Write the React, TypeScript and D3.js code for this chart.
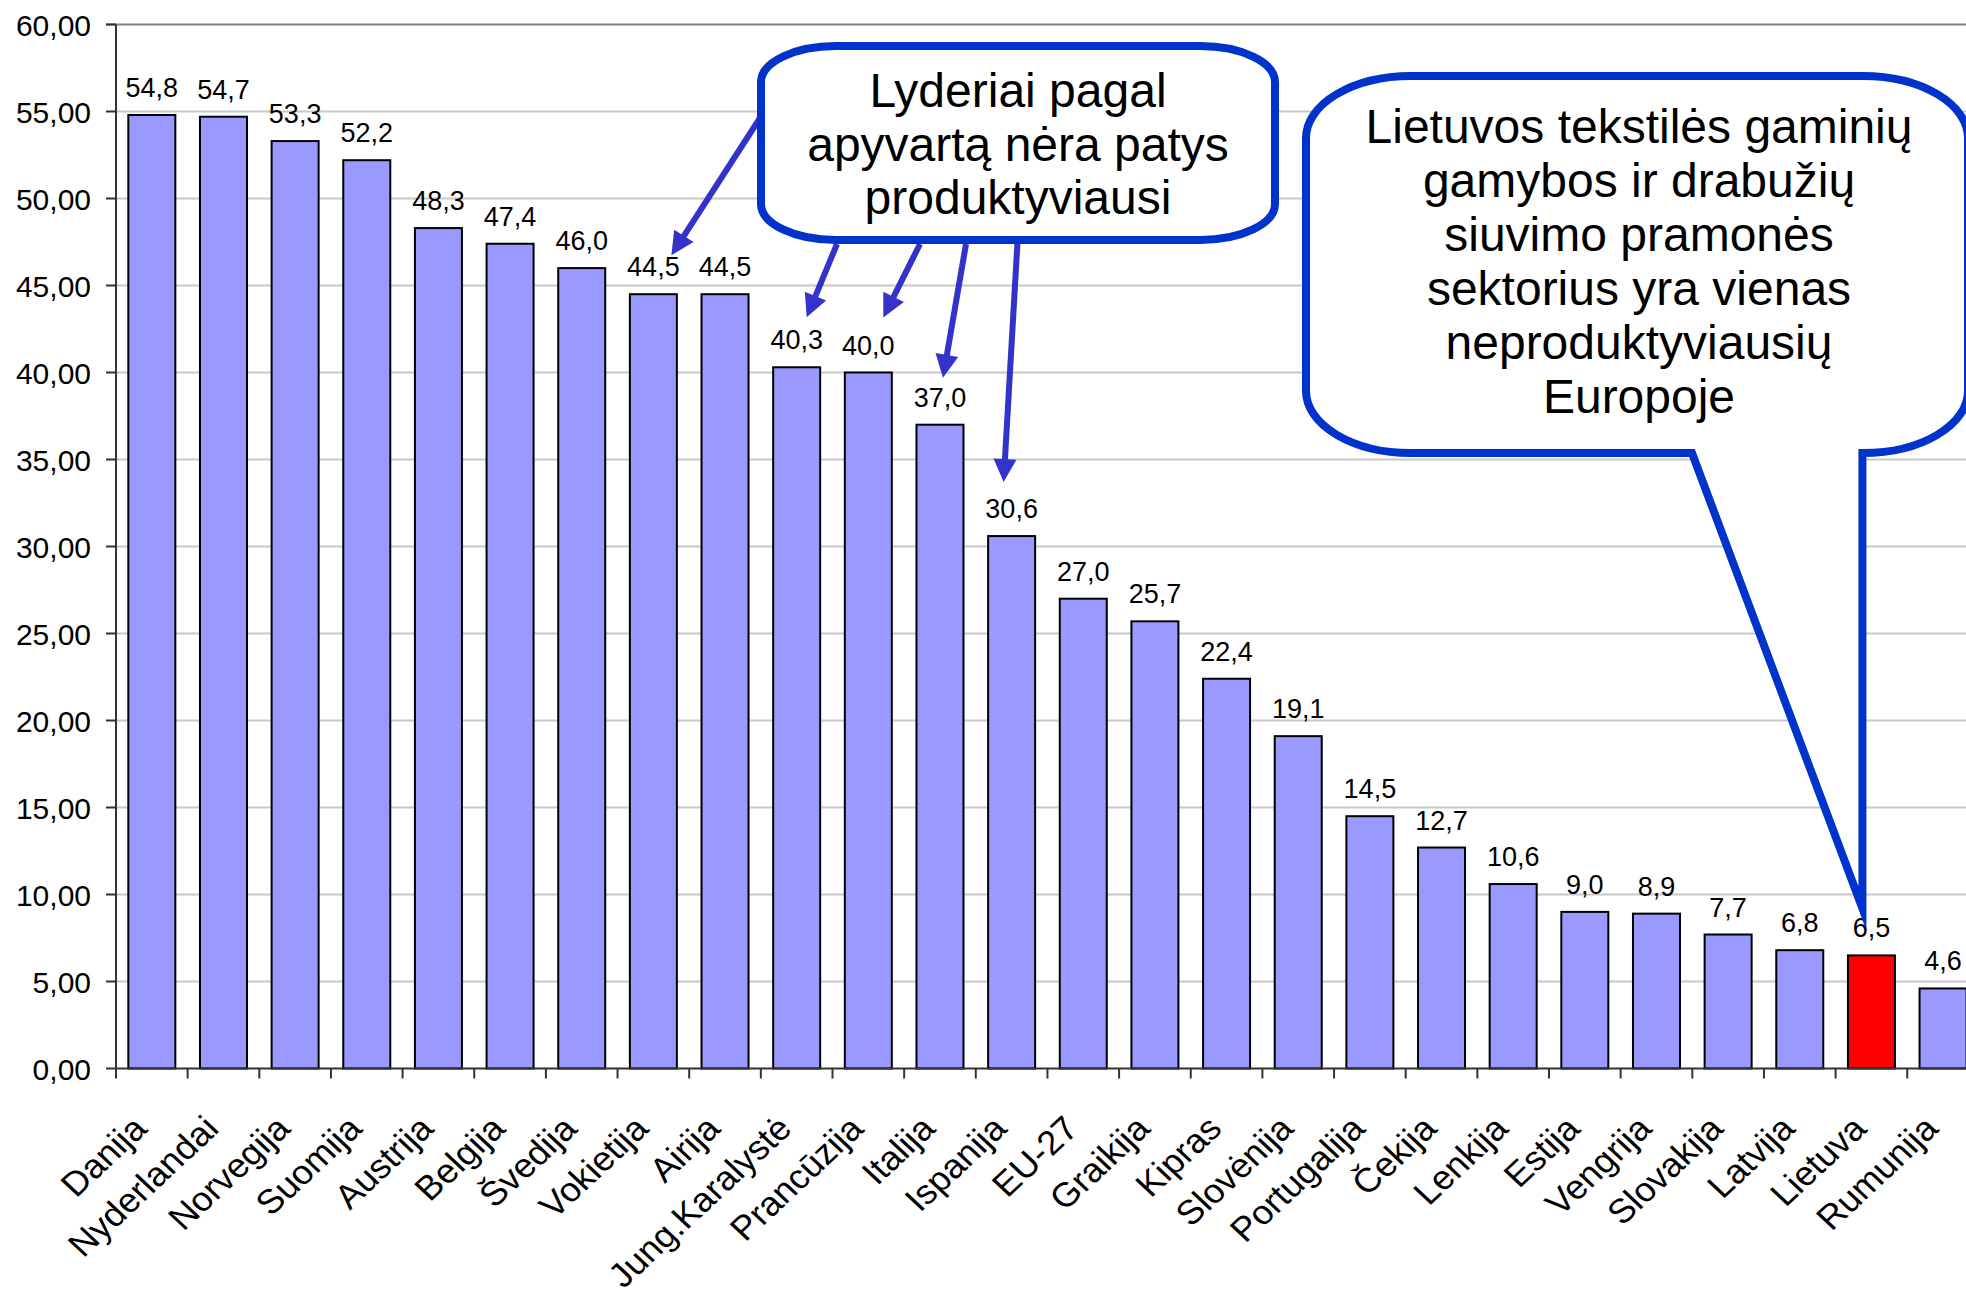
import React from "react";
import * as d3 from "d3";

const categories = ["Danija","Nyderlandai","Norvegija","Suomija","Austrija","Belgija","Švedija","Vokietija","Airija","Jung.Karalystė","Prancūzija","Italija","Ispanija","EU-27","Graikija","Kipras","Slovėnija","Portugalija","Čekija","Lenkija","Estija","Vengrija","Slovakija","Latvija","Lietuva","Rumunija"];
const values = [54.8,54.7,53.3,52.2,48.3,47.4,46.0,44.5,44.5,40.3,40.0,37.0,30.6,27.0,25.7,22.4,19.1,14.5,12.7,10.6,9.0,8.9,7.7,6.8,6.5,4.6];
const highlighted = ["Lietuva"];
const yTicks = [0,5,10,15,20,25,30,35,40,45,50,55,60];
const callout1Lines = ["Lyderiai pagal","apyvartą nėra patys","produktyviausi"];
const callout2Lines = ["Lietuvos tekstilės gaminių","gamybos ir drabužių","siuvimo pramonės","sektorius yra vienas","neproduktyviausių","Europoje"];
const arrowTargets = ["Vokietija","Jung.Karalystė","Prancūzija","Italija","Ispanija"];

const W = 1966, H = 1294;
const FONT = "'Liberation Sans', Arial, Helvetica, sans-serif";
const left = 116, step = 71.65;
const x = d3.scaleBand<string>().domain(categories).range([left, left + step * categories.length]).paddingInner(0.344).paddingOuter(0.172);
const y = d3.scaleLinear().domain([0, 60]).range([1068.5, 24.5]);
const fmt = (v: number, d: number) => d3.format(`.${d}f`)(v).replace(".", ",");
const half = (x.step() - x.bandwidth()) / 2;

function arrow(x1: number, y1: number, x2: number, y2: number, key: string) {
  const dx = x2 - x1, dy = y2 - y1, len = Math.hypot(dx, dy);
  const ux = dx / len, uy = dy / len;
  const hl = 23, hw = 11.5;
  const bx = x2 - ux * hl, by = y2 - uy * hl;
  const px = -uy, py = ux;
  return (
    <g key={key}>
      <line x1={x1} y1={y1} x2={bx + ux * 2} y2={by + uy * 2} stroke="#3333CC" strokeWidth={6} />
      <polygon points={`${x2},${y2} ${bx + px * hw},${by + py * hw} ${bx - px * hw},${by - py * hw}`} fill="#3333CC" />
    </g>
  );
}

function roundedPath(l: number, t: number, r: number, b: number, rx: number, ry: number, tail?: { bl: number; br: number; tx: number; ty: number }) {
  let p = `M${l + rx},${t} H${r - rx} A${rx},${ry} 0 0 1 ${r},${t + ry} V${b - ry} A${rx},${ry} 0 0 1 ${r - rx},${b}`;
  if (tail) p += ` H${tail.br} L${tail.tx},${tail.ty} L${tail.bl},${b}`;
  p += ` H${l + rx} A${rx},${ry} 0 0 1 ${l},${b - ry} V${t + ry} A${rx},${ry} 0 0 1 ${l + rx},${t} Z`;
  return p;
}

export default function App() {
  const plotRight = left + step * categories.length;
  const center = (c: string) => (x(c) as number) + x.bandwidth() / 2;
  const valOf = (c: string) => values[categories.indexOf(c)];

  const arrowStarts: [number, number][] = [[760, 118], [837, 244], [920, 244], [966, 244], [1017.5, 242]];
  const arrowOffsets: [number, number][] = [[18, 39], [10, 50], [15, 55], [3, 47], [-8, 54]];
  const lietuvaTip = { x: center("Lietuva") - 9, y: y(valOf("Lietuva")) - 47 };

  return (
    <svg width={W} height={H} style={{ position: "absolute", left: 0, top: 0, background: "#fff" }} fontFamily={FONT}>
      <rect x={0} y={0} width={W} height={H} fill="#fff" />
      {/* gridlines */}
      {yTicks.filter(t => t > 0 && t < 60).map(t => (
        <line key={"g" + t} x1={left} x2={plotRight} y1={y(t)} y2={y(t)} stroke="#C8C8C8" strokeWidth={2} />
      ))}
      <line x1={left - 10} x2={plotRight} y1={y(60)} y2={y(60)} stroke="#808080" strokeWidth={2} />
      {/* y ticks & labels */}
      {yTicks.map(t => (
        <g key={"yt" + t}>
          <line x1={left - 10} x2={left} y1={y(t)} y2={y(t)} stroke="#333" strokeWidth={2} />
          <text x={91} y={y(t) + 11} fontSize={30} textAnchor="end" fill="#000">{fmt(t, 2)}</text>
        </g>
      ))}
      {/* bars */}
      {categories.map((c, i) => (
        <rect key={"b" + c} x={x(c)} y={y(values[i])} width={x.bandwidth()} height={y(0) - y(values[i])}
          fill={highlighted.includes(c) ? "#FF0000" : "#9999FF"} stroke="#000" strokeWidth={2} />
      ))}
      {/* axes */}
      <line x1={left} x2={left} y1={y(60)} y2={y(0)} stroke="#333" strokeWidth={2} />
      <line x1={left} x2={plotRight} y1={y(0)} y2={y(0)} stroke="#333" strokeWidth={2} />
      {categories.map(c => (
        <line key={"xt" + c} x1={(x(c) as number) - half} x2={(x(c) as number) - half} y1={y(0)} y2={y(0) + 10} stroke="#333" strokeWidth={2} />
      ))}
      {/* value labels */}
      {categories.map((c, i) => (
        <text key={"v" + c} x={center(c)} y={y(values[i]) - 18} fontSize={27} textAnchor="middle" fill="#000">{fmt(values[i], 1)}</text>
      ))}
      {/* category labels */}
      {categories.map(c => (
        <text key={"c" + c} transform={`translate(${center(c) - 3},${y(0) + 62}) scale(1.07,1) rotate(-45)`} fontSize={34} textAnchor="end" fill="#000">{c}</text>
      ))}
      {/* callout 1 arrows */}
      {arrowTargets.map((c, i) => arrow(arrowStarts[i][0], arrowStarts[i][1], center(c) + arrowOffsets[i][0], y(valOf(c)) - arrowOffsets[i][1], "a" + i))}
      {/* callout 1 */}
      <path d={roundedPath(761, 46, 1275, 240, 75, 36)} fill="#fff" stroke="#0033CC" strokeWidth={8} />
      {callout1Lines.map((s, i) => (
        <text key={"c1" + i} x={1018} y={107 + i * 53.5} fontSize={48} textAnchor="middle" fill="#000">{s}</text>
      ))}
      {/* callout 2 */}
      <path d={roundedPath(1306, 76, 1968, 453, 105, 62, { bl: 1692, br: lietuvaTip.x, tx: lietuvaTip.x, ty: lietuvaTip.y })} fill="#fff" stroke="#0033CC" strokeWidth={8} strokeLinejoin="miter" strokeMiterlimit={10} />
      {callout2Lines.map((s, i) => (
        <text key={"c2" + i} x={1639} y={143 + i * 54} fontSize={48} textAnchor="middle" fill="#000">{s}</text>
      ))}
    </svg>
  );
}
